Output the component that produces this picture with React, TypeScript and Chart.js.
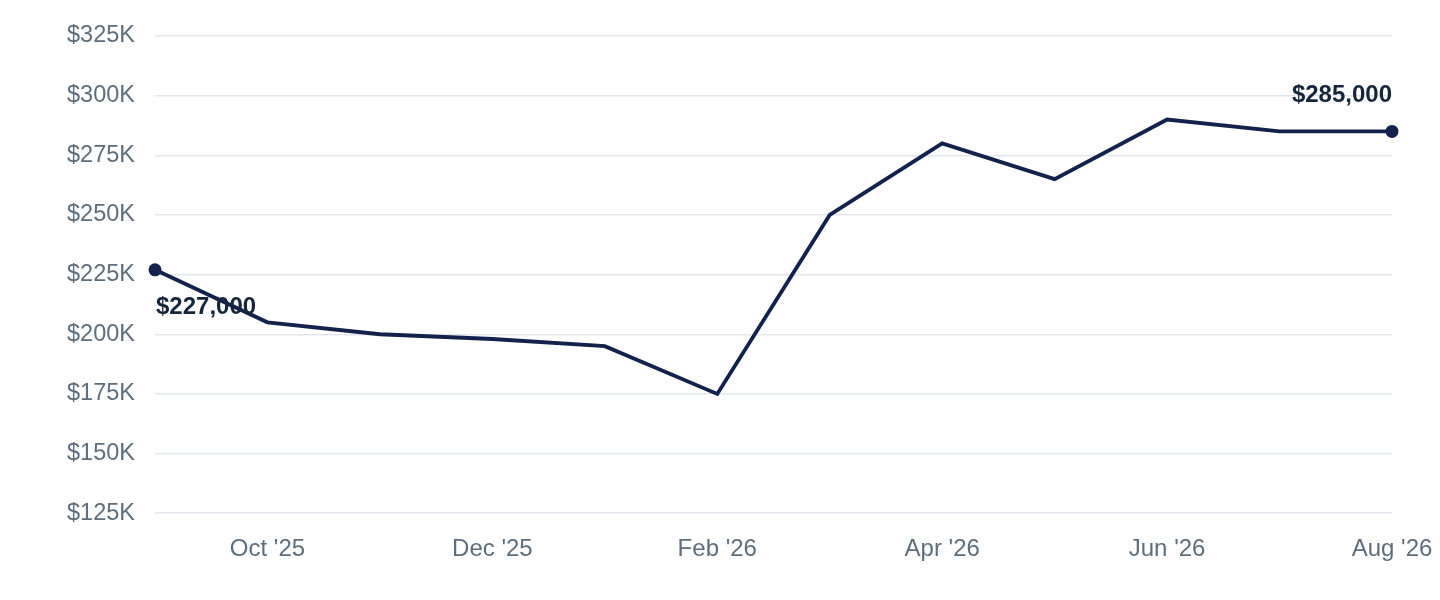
import React, { useEffect, useRef } from "react";
import { Chart, registerables } from "chart.js";

Chart.register(...registerables);

const months = ["Sep '25", "Oct '25", "Nov '25", "Dec '25", "Jan '26", "Feb '26", "Mar '26", "Apr '26", "May '26", "Jun '26", "Jul '26", "Aug '26"];
const values = [227000, 205000, 200000, 198000, 195000, 175000, 250000, 280000, 265000, 290000, 285000, 285000];
const yMin = 125000;
const yMax = 325000;
const yStep = 25000;

const LINE = "#13214d";
const LABEL = "#15253a";
const TICK = "#5f6e7c";
const GRID = "#e3e7ed";
const FONT = "Liberation Sans, Arial, Helvetica, sans-serif";

const endLabels = {
  id: "endLabels",
  afterDatasetsDraw(chart: any) {
    const meta = chart.getDatasetMeta(0);
    const ctx = chart.ctx;
    const pts = meta.data;
    const first = pts[0];
    const last = pts[pts.length - 1];
    const fmt = (v: number) => "$" + v.toLocaleString("en-US");
    ctx.save();
    ctx.font = `bold 24px ${FONT}`;
    ctx.fillStyle = LABEL;
    ctx.textBaseline = "middle";
    ctx.textAlign = "left";
    ctx.fillText(fmt(values[0]), first.x + 1, first.y + 38);
    ctx.textAlign = "right";
    ctx.fillText(fmt(values[values.length - 1]), last.x, last.y - 36);
    ctx.restore();
  },
};

export default function App() {
  const ref = useRef<HTMLCanvasElement | null>(null);
  useEffect(() => {
    if (!ref.current) return;
    const n = values.length;
    const chart = new Chart(ref.current, {
      type: "line",
      data: {
        labels: months,
        datasets: [
          {
            data: values,
            borderColor: LINE,
            backgroundColor: LINE,
            borderWidth: 3.8,
            tension: 0,
            clip: false as any,
            pointRadius: (c: any) => (c.dataIndex === 0 || c.dataIndex === n - 1 ? 6.5 : 0),
            pointHoverRadius: 6.5,
            pointBorderWidth: 0,
            pointBackgroundColor: LINE,
          },
        ],
      },
      options: {
        animation: false,
        responsive: true,
        maintainAspectRatio: false,
        layout: { padding: { top: 0, bottom: 6, left: 0, right: 0 } },
        plugins: { legend: { display: false }, tooltip: { enabled: false } },
        scales: {
          x: {
            offset: false,
            afterFit: (s: any) => {
              s.paddingLeft = 0;
              s.paddingRight = 40;
            },
            grid: { display: false, drawTicks: false },
            border: { display: false },
            ticks: {
              autoSkip: false,
              maxRotation: 0,
              padding: 22,
              color: TICK,
              font: { family: FONT, size: 24 },
              callback: (_v: any, i: number) => (i % 2 === 1 ? months[i] : ""),
            },
          },
          y: {
            min: yMin,
            max: yMax,
            afterFit: (s: any) => {
              s.width = 147;
              s.paddingTop = 28;
              s.paddingBottom = 14;
            },
            grid: { color: GRID, lineWidth: 1.5, drawTicks: false },
            border: { display: false },
            ticks: {
              stepSize: yStep,
              padding: 20,
              color: TICK,
              font: { family: FONT, size: 23.5 },
              callback: (v: any) => "$" + Math.round(Number(v) / 1000) + "K",
            },
          },
        },
      },
      plugins: [endLabels],
    });
    return () => chart.destroy();
  }, []);
  return (
    <div style={{ position: "relative", width: "100%", height: 584 }}>
      <canvas ref={ref} />
    </div>
  );
}
